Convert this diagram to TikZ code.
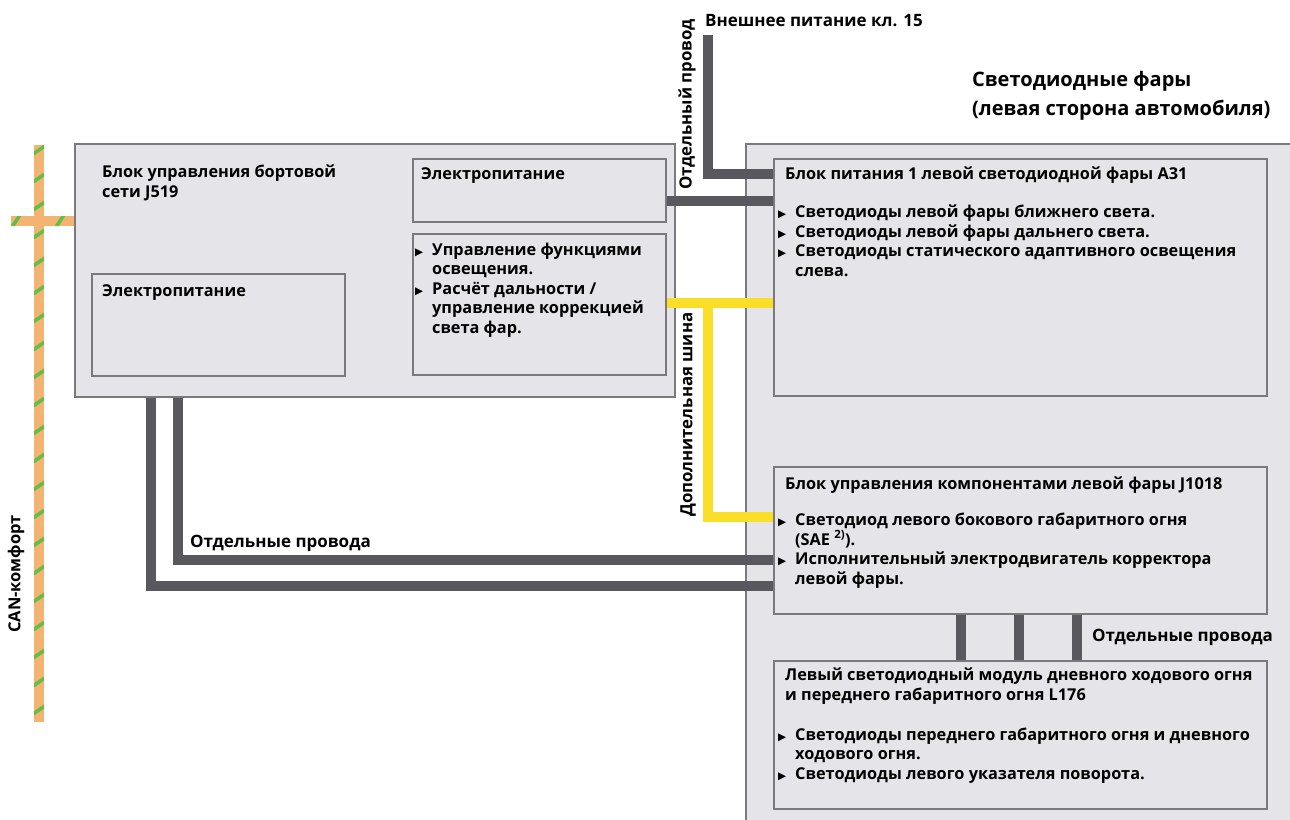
\documentclass[tikz,border=0pt]{standalone}
\usepackage{fontspec}
\setmainfont{Open Sans}
\newfontfamily\symfont{DejaVu Sans}
\definecolor{boxfill}{RGB}{229,229,233}
\definecolor{boxline}{RGB}{122,122,126}
\definecolor{wiregray}{RGB}{88,88,94}
\definecolor{busyellow}{RGB}{250,222,40}
\definecolor{canorange}{RGB}{242,180,112}
\definecolor{cangreen}{RGB}{98,190,72}
\newcommand\blt{\makebox[17pt][l]{\symfont\fontsize{10.5}{10}\selectfont ▶}}
\newcommand\ind{\hspace*{17pt}}
\begin{document}
\begin{tikzpicture}[x=1pt,y=-1pt,
    box/.style={draw=boxline,fill=boxfill,line width=1.5pt,anchor=north west,inner sep=0pt},
    wire/.style={draw=wiregray,line width=10pt},
    bus/.style={draw=busyellow,line width=10pt},
    txt/.style={anchor=base west,inner sep=0pt,align=left,font={\bfseries\fontsize{16.3}{19.5}\selectfont}},
    label/.style={txt,font={\bfseries\fontsize{17}{20}\selectfont}},
    vlabel/.style={txt,rotate=90,anchor=west,font={\bfseries\fontsize{16.8}{20}\selectfont}}]
        \useasboundingbox (0,0) rectangle (1290,819);

        %% J519
        \node[box,minimum width=600pt,minimum height=253pt] (j519) at (74,143) {};
        \node[box,minimum width=253pt,minimum height=102pt] (pwr1) at (91,273) {};
        \node[box,minimum width=253pt,minimum height=63pt] (pwr2) at (412,158) {};
        \node[box,minimum width=253pt,minimum height=141pt] (ctrl) at (412,233) {};

        %% headlight
        \node[box,minimum width=560pt,minimum height=700pt] (led) at (745,143) {};
        \node[box,minimum width=493pt,minimum height=237pt] (a31) at (773,158) {};
        \node[box,minimum width=493pt,minimum height=147pt] (j1018) at (773,466) {};
        \node[box,minimum width=493pt,minimum height=148pt] (l176) at (773,660) {};

        %% wires
        \coordinate (kl15) at (708,35);
        \coordinate (busjoint) at (708,303);
        \draw[wire] (kl15) |- (a31.west |- 0,174);
        \draw[wire] (pwr2.east |- 0,201) -- (a31.west |- 0,201);
        \draw[wire] (j519.south -| 151,0) |- (j1018.west |- 0,586);
        \draw[wire] (j519.south -| 178,0) |- (j1018.west |- 0,560);
        \foreach \x in {961,1019,1077}
            \draw[wire] (j1018.south -| \x,0) -- (l176.north -| \x,0);

        %% extra bus
        \draw[bus] (ctrl.east |- busjoint) -- (a31.west |- busjoint);
        \draw[bus] (busjoint) |- (j1018.west |- 0,517);

        %% CAN
        \fill[canorange] (34,145) rectangle (44,722);
        \fill[canorange] (11,216) rectangle (74,226);
        \begin{scope}
            \clip (34,145) rectangle (44,722) (11,216) rectangle (74,226);
            \foreach \y in {150,178,...,722}
                \draw[cangreen,line width=3.5pt] (33,\y+4) -- (45,\y-4);
            \foreach \x in {16,60}
                \draw[cangreen,line width=3.5pt] (\x-4,227) -- (\x+4,215);
        \end{scope}

        %% texts (multi-line nodes sit on their last line)
        \node[txt] (j519t) at (102,197) {Блок управления бортовой\\сети J519};
        \node[txt] (pwr1t) at (102,296) {Электропитание};
        \node[txt] (pwr2t) at (421,179) {Электропитание};
        \node[txt] (ctrlt) at (415,333) {\blt Управление функциями\\\ind освещения.\\\blt Расчёт дальности /\\\ind управление коррекцией\\\ind света фар.};
        \node[txt] (a31t) at (785,179) {Блок питания 1 левой светодиодной фары A31};
        \node[txt] (a31l) at (778,276) {\blt Светодиоды левой фары ближнего света.\\\blt Светодиоды левой фары дальнего света.\\\blt Светодиоды статического адаптивного освещения\\\ind слева.};
        \node[txt] (j1018t) at (785,489) {Блок управления компонентами левой фары J1018};
        \node[txt] (j1018l) at (778,584) {\blt Светодиод левого бокового габаритного огня\\\ind (SAE \textsuperscript{2)}).\\\blt Исполнительный электродвигатель корректора\\\ind левой фары.};
        \node[txt] (l176t) at (785,700) {Левый светодиодный модуль дневного ходового огня\\и переднего габаритного огня L176};
        \node[txt] (l176l) at (778,779) {\blt Светодиоды переднего габаритного огня и дневного\\\ind ходового огня.\\\blt Светодиоды левого указателя поворота.};
        \node[label] (kl15t) at (705,27) {Внешнее питание кл. 15};
        \node[txt,font={\bfseries\fontsize{20}{29}\selectfont}] (ledt) at (972,115) {Светодиодные фары\\(левая сторона автомобиля)};
        \node[label] (wiresl) at (190,547) {Отдельные провода};
        \node[label] (wiresr) at (1092,641) {Отдельные провода};
        \node[vlabel] (singlew) at (687,190) {Отдельный провод};
        \node[vlabel] (extbus) at (688,517) {Дополнительная шина};
        \node[vlabel,font={\bfseries\fontsize{16.5}{20}\selectfont}] (cant) at (16,633) {CAN-комфорт};
\end{tikzpicture}
\end{document}
